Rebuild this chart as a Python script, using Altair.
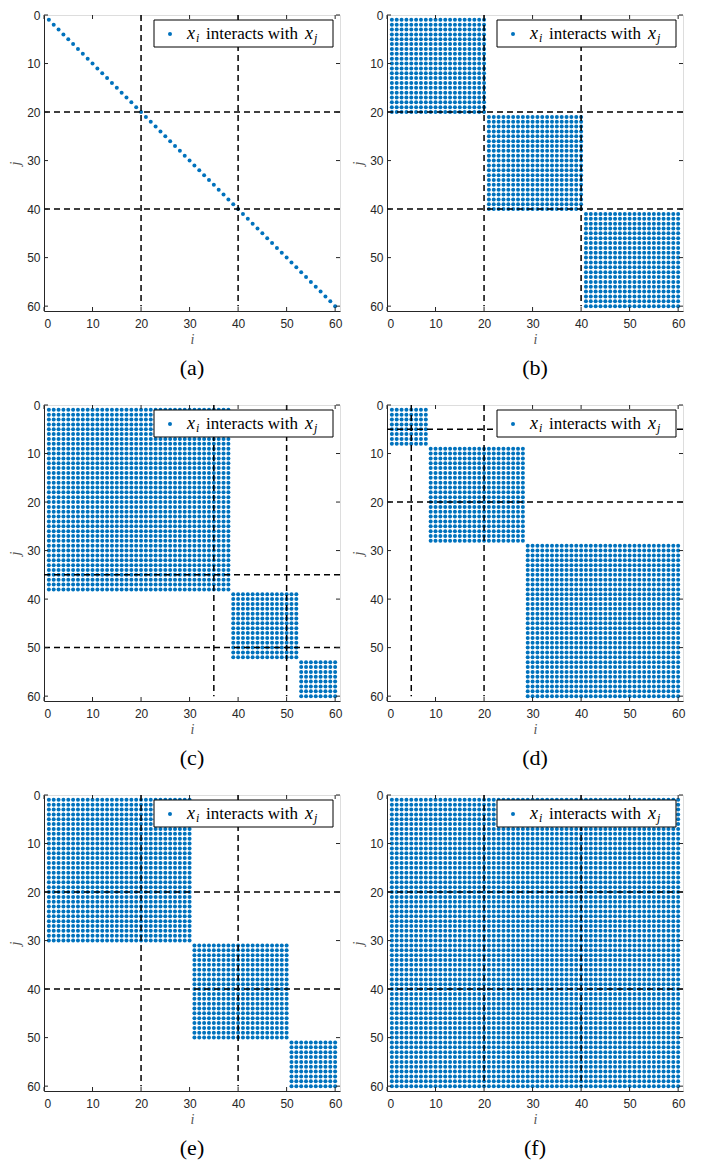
import altair as alt
import pandas as pd

# ---------------- data ----------------
N_VARS = 60
AXIS_MAX = 61
TICKS = [0, 10, 20, 30, 40, 50, 60]
PANELS = ["(a)", "(b)", "(c)", "(d)", "(e)", "(f)"]

# sizes of consecutive interacting groups (blocks along the diagonal)
GROUPS_A = [1] * 60
GROUPS_B = [20, 20, 20]
GROUPS_C = [38, 14, 8]
GROUPS_D = [8, 20, 32]
GROUPS_E = [30, 20, 10]
GROUPS_F = [60]
GROUP_SIZES = [GROUPS_A, GROUPS_B, GROUPS_C, GROUPS_D, GROUPS_E, GROUPS_F]

# true group boundaries (dashed lines)
SPLITS_A = [20, 40]
SPLITS_B = [20, 40]
SPLITS_C = [35, 50]
SPLITS_D = [5, 20]
SPLITS_E = [20, 40]
SPLITS_F = [20, 40]
SPLITS = [SPLITS_A, SPLITS_B, SPLITS_C, SPLITS_D, SPLITS_E, SPLITS_F]
VLINE_END = 60

# ---------------- style ----------------
W = 296
H = 296
BLUE = "#0072BD"
AX = "#262626"
LABEL_FONT = "Liberation Sans"
SERIF = "Liberation Serif"


def block_points(sizes):
    rows = []
    start = 1
    for s in sizes:
        end = start + s - 1
        for i in range(start, end + 1):
            for j in range(start, end + 1):
                rows.append({"i": i, "j": j})
        start = end + 1
    return pd.DataFrame(rows)


xscale = alt.Scale(domain=[0, AXIS_MAX], nice=False, zero=False)
yscale = alt.Scale(domain=[0, AXIS_MAX], nice=False, zero=False, reverse=True)
xaxis = alt.Axis(values=TICKS, title="i", ticks=False, grid=False, domain=True,
                 domainColor=AX, labelFont=LABEL_FONT, labelFontSize=12,
                 labelColor=AX, labelPadding=7, titleFont=SERIF,
                 titleFontStyle="italic", titleFontWeight="normal",
                 titleFontSize=14, titleColor="#555555", titlePadding=3)
yaxis = alt.Axis(values=TICKS, title="j", ticks=False, grid=False, domain=True,
                 domainColor=AX, labelFont=LABEL_FONT, labelFontSize=12,
                 labelColor=AX, labelPadding=4, titleFont=SERIF,
                 titleFontStyle="italic", titleFontWeight="normal",
                 titleFontSize=14, titleColor="#555555", titlePadding=4)


def X(field="i"):
    return alt.X(f"{field}:Q", scale=xscale, axis=xaxis)


def Y(field="j"):
    return alt.Y(f"{field}:Q", scale=yscale, axis=yaxis)


one = pd.DataFrame({"k": [0]})


def panel(caption, sizes, splits):
    dots = alt.Chart(block_points(sizes)).mark_circle(
        size=16, color=BLUE, opacity=1).encode(x=X(), y=Y())

    vdf = pd.DataFrame({"i": splits, "j": [0] * len(splits),
                        "j2": [VLINE_END] * len(splits)})
    hdf = pd.DataFrame({"j": splits, "i": [0] * len(splits),
                        "i2": [AXIS_MAX] * len(splits)})
    vlines = alt.Chart(vdf).mark_rule(color="black", strokeWidth=1.5,
                                      strokeDash=[6, 4]).encode(
        x=X(), y=Y(), y2="j2:Q")
    hlines = alt.Chart(hdf).mark_rule(color="black", strokeWidth=1.5,
                                      strokeDash=[6, 4]).encode(
        y=Y(), x=X(), x2="i2:Q")

    tx = pd.DataFrame({"i": TICKS})
    ty = pd.DataFrame({"j": TICKS})
    tk = dict(color=AX, strokeWidth=1)
    t_bot = alt.Chart(tx).mark_rule(**tk).encode(
        x=X(), y=alt.value(H), y2=alt.value(H - 4))
    t_top = alt.Chart(tx).mark_rule(**tk).encode(
        x=X(), y=alt.value(0), y2=alt.value(4))
    t_left = alt.Chart(ty).mark_rule(**tk).encode(
        y=Y(), x=alt.value(0), x2=alt.value(4))
    t_right = alt.Chart(ty).mark_rule(**tk).encode(
        y=Y(), x=alt.value(W), x2=alt.value(W - 4))

    box = alt.Chart(one).mark_rect(fill="white", stroke="black",
                                   strokeWidth=1).encode(
        x=alt.value(110), x2=alt.value(289), y=alt.value(5), y2=alt.value(32))
    marker = alt.Chart(one).mark_circle(size=16, color=BLUE, opacity=1).encode(
        x=alt.value(126), y=alt.value(19))
    base_t = dict(font=SERIF, color="black", align="left", baseline="alphabetic")
    t1 = alt.Chart(one).mark_text(text="x", fontSize=18, fontStyle="italic",
                                  **base_t).encode(x=alt.value(143), y=alt.value(24))
    t2 = alt.Chart(one).mark_text(text="i", fontSize=12, fontStyle="italic",
                                  **base_t).encode(x=alt.value(152), y=alt.value(27))
    t3 = alt.Chart(one).mark_text(text="interacts with", fontSize=17,
                                  **base_t).encode(x=alt.value(162), y=alt.value(24))
    t4 = alt.Chart(one).mark_text(text="x", fontSize=18, fontStyle="italic",
                                  **base_t).encode(x=alt.value(261), y=alt.value(24))
    t5 = alt.Chart(one).mark_text(text="j", fontSize=12, fontStyle="italic",
                                  **base_t).encode(x=alt.value(270), y=alt.value(27))

    return alt.layer(dots, vlines, hlines, t_bot, t_top, t_left, t_right,
                     box, marker, t1, t2, t3, t4, t5).properties(
        width=W, height=H,
        title=alt.TitleParams(caption, orient="bottom", font=SERIF,
                              fontSize=22, fontWeight="normal", color="black",
                              offset=12))


charts = [panel(c, s, sp) for c, s, sp in zip(PANELS, GROUP_SIZES, SPLITS)]

chart = alt.concat(*charts, columns=2, spacing={"row": 94, "column": 47},
                   bounds="flush").properties(
    padding={"left": 0, "top": 0, "right": 0, "bottom": 0}
).configure_view(stroke="#8a8a8a", strokeWidth=1).configure(background="white")

chart.save("out.html", embed_options={"renderer": "svg", "actions": False})
